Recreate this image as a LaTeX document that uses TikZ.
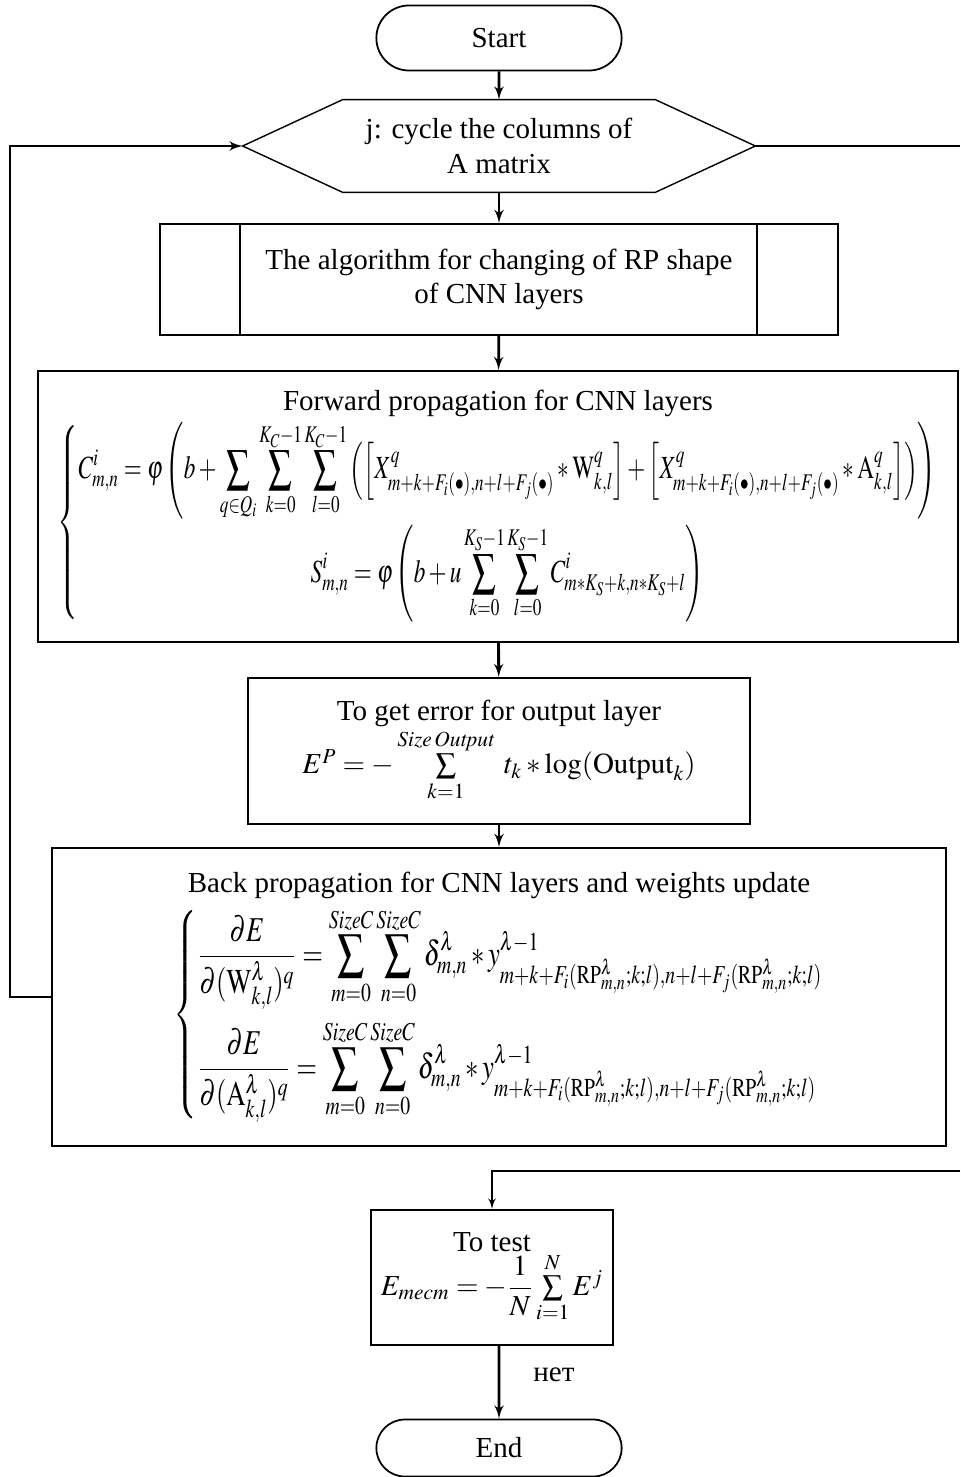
\documentclass[tikz,border=0pt]{standalone}
\usepackage{amsmath}
\usepackage{amssymb}
\usepackage{mathptmx}
\usepackage{fontspec}
\setmainfont{Liberation Serif}
\usepackage{tikz}
\usetikzlibrary{positioning}
\usetikzlibrary{shapes,arrows}
\tikzstyle{block} = [rectangle, draw, line width=1.1pt, fill=white, text centered, align=center, inner sep=2pt]
\tikzstyle{term} = [rounded rectangle, draw, line width=1pt, minimum width=5.14cm]
\tikzstyle{line} = [draw, line width=1.6pt, -latex']

\begin{document}
\begin{tikzpicture}[font=\fontsize{16.5}{19.5}\selectfont]
    \useasboundingbox (0,0) rectangle (19.2,-29.54);
    % nodes
   \node [term, minimum height=1.3cm] (start) at (9.98,-0.76) {Start};
   \node [minimum width=10.24cm, minimum height=1.84cm, align=center] (cycle) at (9.98,-2.92) {j: cycle the columns of\\A matrix};
   \node [block, minimum width=13.56cm, minimum height=2.22cm] (alg) at (9.98,-5.59) {The algorithm for changing of RP shape\\of CNN layers};
   \node [block, minimum width=18.4cm, minimum height=5.42cm] (fwd) at (9.96,-10.13) {Forward propagation for CNN layers\\[2pt]
     \resizebox*{17.6cm}{4cm}{$\left\{\begin{array}{@{}c@{}}
     \displaystyle C^{i}_{m,n}=\varphi\left(b+\sum_{q\in Q_i}\sum_{k=0}^{K_C-1}\sum_{l=0}^{K_C-1}\left(\left[X^{q}_{m+k+F_i(\bullet),n+l+F_j(\bullet)}*\mathrm{W}^{q}_{k,l}\right]+\left[X^{q}_{m+k+F_i(\bullet),n+l+F_j(\bullet)}*\mathrm{A}^{q}_{k,l}\right]\right)\right)\\[18pt]
     \displaystyle S^{i}_{m,n}=\varphi\left(b+u\sum_{k=0}^{K_S-1}\sum_{l=0}^{K_S-1}C^{i}_{m*K_S+k,n*K_S+l}\right)
     \end{array}\right.$}};
   \node [block, minimum width=10.04cm, minimum height=2.92cm] (err) at (9.98,-15.02) {To get error for output layer\\
     $E^{P}=-\mathop{\textstyle\sum}\limits_{k=1}^{\mathit{Size\,Output}}\; t_k*\log(\mathrm{Output}_k)$};
   \node [block, minimum width=17.88cm, minimum height=5.96cm] (back) at (9.98,-19.94) {Back propagation for CNN layers and weights update\\[4pt]
     \resizebox*{13cm}{4.3cm}{$\left\{\begin{array}{@{}l@{}}
     \displaystyle \frac{\partial E}{\partial(\mathrm{W}^{\lambda}_{k,l})^{q}}=\sum_{m=0}^{SizeC}\sum_{n=0}^{SizeC}\delta^{\lambda}_{m,n}*y^{\lambda-1}_{m+k+F_i(\mathrm{RP}^{\lambda}_{m,n};k;l),n+l+F_j(\mathrm{RP}^{\lambda}_{m,n};k;l)}\\[20pt]
     \displaystyle \frac{\partial E}{\partial(\mathrm{A}^{\lambda}_{k,l})^{q}}=\sum_{m=0}^{SizeC}\sum_{n=0}^{SizeC}\delta^{\lambda}_{m,n}*y^{\lambda-1}_{m+k+F_i(\mathrm{RP}^{\lambda}_{m,n};k;l),n+l+F_j(\mathrm{RP}^{\lambda}_{m,n};k;l)}
     \end{array}\right.$}};
   \node [block, minimum width=4.84cm, minimum height=2.7cm] (test) at (9.84,-25.55) {To test\\
     $E_{mecm}=-\dfrac{1}{N}\mathop{\textstyle\sum}\limits_{i=1}^{N}E^{j}$};
   \node [term, minimum height=1.14cm] (end) at (9.98,-28.96) {End};
   \node (no) at (11.08,-27.5) {нет};
   \coordinate (exitR) at (19.2,-2.92);
   \coordinate (exitL) at (19.2,-23.42);
   \coordinate (loopL) at (0.2,-19.94);

    % hexagon and process bars
   \draw [line width=0.8pt] (cycle.west) -- ([xshift=2cm]cycle.north west) -- ([xshift=-2cm]cycle.north east) -- (cycle.east) -- ([xshift=-2cm]cycle.south east) -- ([xshift=2cm]cycle.south west) -- cycle;
   \draw [line width=1.1pt] ([xshift=1.62cm]alg.north west) -- ([xshift=1.62cm]alg.south west);
   \draw [line width=1.1pt] ([xshift=-1.64cm]alg.north east) -- ([xshift=-1.64cm]alg.south east);

    % edges
          \path [line] (start) -- (cycle.north);
          \path [line] (cycle.south) -- (alg);
          \path [line] (alg) -- (fwd);
          \path [line] (fwd) -- (err);
          \path [line] (err) -- (back);
          \draw [line] (back.west) -- (loopL) |- (cycle.west);
          \draw [line width=1.1pt] (cycle.east) -- (exitR);
          \draw [line, line width=1.1pt] (exitL) -| (test);
          \path [line] (test.south -| end) -- (end);

  \end{tikzpicture}
\end{document}
